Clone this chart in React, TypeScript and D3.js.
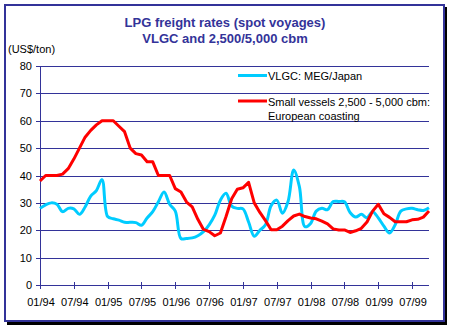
import React from "react";
import * as d3 from "d3";

const months: string[] = [];
for (let y = 94; y <= 99; y++) {
  for (let m = 1; m <= 12; m++) {
    if (y === 99 && m > 10) break;
    months.push(`${String(m).padStart(2, "0")}/${y}`);
  }
}

const tickLabels = ["01/94", "07/94", "01/95", "07/95", "01/96", "07/96", "01/97", "07/97", "01/98", "07/98", "01/99", "07/99"];
const yTicks = [0, 10, 20, 30, 40, 50, 60, 70, 80];

const vlgc = [
  28, 29.3, 30, 29.5, 26.8, 28, 27.8, 25.8, 28.5, 32.5,
  34.5, 38.5, 25, 24.2, 23.7, 22.9, 22.9, 22.8, 21.8, 24.5,
  26.8, 30.4, 34, 29.5, 27, 17, 17, 17.2, 18, 19.5,
  22, 25.5, 31, 33.5, 28.8, 28, 27.8, 23, 17.8, 20,
  22, 29, 31, 26.2, 30.5, 42, 36, 21.3, 22.5, 27,
  28, 27.5, 30.5, 30.5, 30.4, 26.5, 24.8, 25.8, 24.6, 26.8,
  24.5, 21.5, 19, 22, 27, 27.8, 28, 27.5, 27.2, 28.2,
];

const small = [
  38, 40, 40, 40, 40.5, 42.5, 46, 50, 54, 56.5,
  58.5, 60, 60, 60, 58, 56, 50, 48, 47.5, 45,
  45, 40, 40, 40, 35.2, 34, 30.3, 28.5, 24, 20.3,
  19.5, 18, 19, 25, 31.5, 35, 35.5, 37.5, 30, 26.5,
  23.5, 20.2, 20.2, 21.5, 23.5, 25.2, 25.9, 25, 24.5, 24.2,
  23.3, 22.3, 20.5, 20.1, 20.1, 19.2, 19.8, 20.7, 23, 27,
  29.5, 26, 24.7, 23.1, 23.1, 23.1, 23.8, 24, 24.8, 27,
];

const BLUE = "#333399";
const CYAN = "#00CCFF";
const RED = "#FF0000";
const FONT = "Arial, 'Liberation Sans', sans-serif";

export default function App() {
  const x = d3.scaleLinear().domain([0, months.length - 1]).range([40, 429]);
  const y = d3.scaleLinear().domain([0, 80]).range([285, 66]);

  const cyanLine = d3
    .line<number>()
    .x((_, i) => x(i))
    .y((d) => y(d))
    .curve(d3.curveCatmullRom.alpha(0.5));
  const redLine = d3
    .line<number>()
    .x((_, i) => x(i))
    .y((d) => y(d));

  const tickIdx = tickLabels.map((t) => months.indexOf(t));

  return (
    <svg
      width={451}
      height={328}
      style={{ position: "absolute", left: 0, top: 0, background: "#fff" }}
      fontFamily={FONT}
    >
      <rect x={0} y={0} width={451} height={328} fill="#fff" />
      {/* shadow */}
      <rect x={444} y={7} width={3} height={318} fill="#000" />
      <rect x={7} y={322} width={440} height={3} fill="#000" />
      <rect x={5} y={5} width={439} height={316} fill="none" stroke={BLUE} strokeWidth={2} />

      <text x={225} y={27} textAnchor="middle" fontSize={13} fontWeight="bold" fill={BLUE}>
        LPG freight rates (spot voyages)
      </text>
      <text x={225} y={43} textAnchor="middle" fontSize={13} fontWeight="bold" fill={BLUE}>
        VLGC and 2,500/5,000 cbm
      </text>
      <text x={8} y={53} fontSize={11} fill="#000">
        (US$/ton)
      </text>

      {yTicks.map((t) => (
        <g key={t}>
          <line x1={36} x2={429} y1={Math.round(y(t)) + 0.5} y2={Math.round(y(t)) + 0.5} stroke={BLUE} strokeWidth={1} />
          <text x={32} y={y(t) + 4} textAnchor="end" fontSize={11} fill="#000">
            {t}
          </text>
        </g>
      ))}
      <line x1={40.5} x2={40.5} y1={66} y2={285} stroke={BLUE} strokeWidth={1} />

      {tickIdx.map((i, k) => (
        <g key={k}>
          <line x1={Math.round(x(i)) + 0.5} x2={Math.round(x(i)) + 0.5} y1={282} y2={289} stroke={BLUE} strokeWidth={1} />
          <text x={x(i) + 1} y={305.5} textAnchor="middle" fontSize={11} fill="#000">
            {tickLabels[k]}
          </text>
        </g>
      ))}

      <path d={cyanLine(vlgc) || ""} fill="none" stroke={CYAN} strokeWidth={3} strokeLinejoin="round" />
      <path d={redLine(small) || ""} fill="none" stroke={RED} strokeWidth={3} strokeLinejoin="round" />

      <line x1={238} x2={267} y1={75.5} y2={75.5} stroke={CYAN} strokeWidth={3} />
      <text x={268} y={79.5} fontSize={11} fill="#000">
        VLGC: MEG/Japan
      </text>
      <line x1={238} x2={267} y1={101} y2={101} stroke={RED} strokeWidth={3} />
      <text x={268} y={105.5} fontSize={11} fill="#000">
        Small vessels 2,500 - 5,000 cbm:
      </text>
      <text x={268} y={120} fontSize={11} fill="#000">
        European coasting
      </text>
    </svg>
  );
}
